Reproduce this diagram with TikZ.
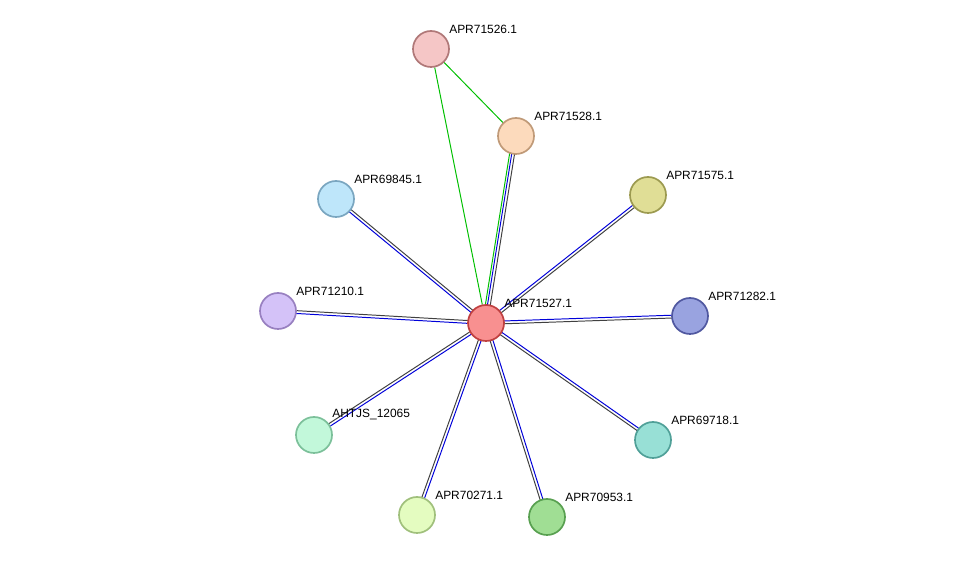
\documentclass[tikz,border=0pt]{standalone}
\usepackage{fontspec}
\setmainfont{Liberation Sans}
\usetikzlibrary{calc,backgrounds}
\tikzset{
  prot/.style={circle,minimum size=0.9cm,inner sep=0pt,line width=1.2pt},
  lbl/.style={inner sep=0pt,anchor=south west,font=\fontsize{8.5}{10}\selectfont},
}
\newcommand{\pair}[2]{%
  \draw[blue!85!black,line width=0.7pt] ($(#1)!1pt!90:(#2)$) -- ($(#2)!1pt!-90:(#1)$);
  \draw[black!75,line width=0.7pt] ($(#1)!1pt!-90:(#2)$) -- ($(#2)!1pt!90:(#1)$);}
\begin{document}
\begin{tikzpicture}[x=0.025cm,y=-0.025cm]
\useasboundingbox (0,0) rectangle (976,563);
% proteins
\node[prot,fill={rgb,255:red,248;green,144;blue,144},draw={rgb,255:red,192;green,64;blue,64}] (c) at (486,323) {};
\node[prot,fill={rgb,255:red,245;green,198;blue,198},draw={rgb,255:red,176;green,120;blue,120}] (n1) at (431,49) {};
\node[prot,fill={rgb,255:red,252;green,218;blue,188},draw={rgb,255:red,192;green,154;blue,120}] (n2) at (516,136) {};
\node[prot,fill={rgb,255:red,190;green,230;blue,250},draw={rgb,255:red,122;green,166;blue,192}] (n3) at (336,199) {};
\node[prot,fill={rgb,255:red,224;green,222;blue,150},draw={rgb,255:red,156;green,154;blue,80}] (n4) at (648,195) {};
\node[prot,fill={rgb,255:red,212;green,194;blue,248},draw={rgb,255:red,152;green,128;blue,192}] (n5) at (278,311) {};
\node[prot,fill={rgb,255:red,153;green,163;blue,224},draw={rgb,255:red,80;green,88;blue,160}] (n6) at (690,316) {};
\node[prot,fill={rgb,255:red,194;green,248;blue,218},draw={rgb,255:red,124;green,192;blue,154}] (n7) at (314,435) {};
\node[prot,fill={rgb,255:red,152;green,224;blue,214},draw={rgb,255:red,80;green,160;blue,152}] (n8) at (653,440) {};
\node[prot,fill={rgb,255:red,228;green,252;blue,192},draw={rgb,255:red,160;green,192;blue,124}] (n9) at (417,515) {};
\node[prot,fill={rgb,255:red,160;green,222;blue,148},draw={rgb,255:red,88;green,160;blue,80}] (n10) at (547,517) {};
% labels
\foreach \n/\t in {c/APR71527.1,n1/APR71526.1,n2/APR71528.1,n3/APR69845.1,n4/APR71575.1,
  n5/APR71210.1,n6/APR71282.1,n7/AHTJS\_12065,n8/APR69718.1,n9/APR70271.1,n10/APR70953.1}
  \node[lbl] (l\n) at ($(\n)+(18,-15)$) {\t};
% edges
\begin{pgfonlayer}{background}
\foreach \n in {n3,n4,n5,n6,n7,n8,n9,n10} {\pair{c}{\n}}
\draw[green!75!black,line width=0.7pt] ($(c)!2.5pt!90:(n2)$) -- ($(n2)!2.5pt!-90:(c)$);
\pair{c}{n2}
\draw[green!75!black,line width=0.7pt] (c) -- (n1);
\draw[green!75!black,line width=0.7pt] (n1) -- (n2);
\end{pgfonlayer}
\end{tikzpicture}
\end{document}
